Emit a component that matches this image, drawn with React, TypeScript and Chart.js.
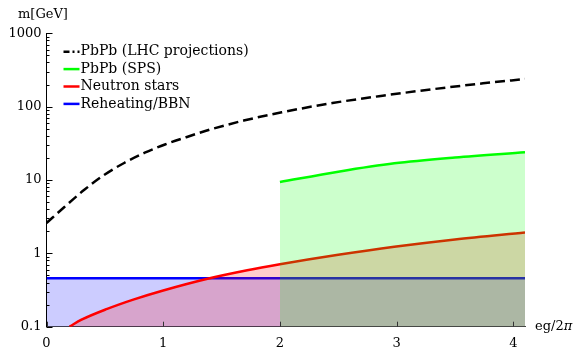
import React, { useEffect, useRef } from "react";
import { Chart, registerables } from "chart.js";

Chart.register(...registerables);

// ---- data ----
const lhcX = [0, 0.151, 0.324, 0.497, 0.669, 0.842, 1.015, 1.188, 1.36, 1.533, 1.69, 2.016, 2.45, 2.88, 3.31, 3.74, 4.1];
const lhcM = [2.59, 4.25, 7.35, 11.8, 17.2, 23.55, 30.5, 37.9, 46.5, 55.7, 64.6, 83.8, 112, 141, 173, 208, 238];

const spsX = [2, 2.5, 2.98, 3.5, 4.1];
const spsM = [9.4, 13.0, 16.9, 20.3, 23.9];

const nsX = [0.197, 0.3, 0.52, 0.75, 1.0, 1.38, 1.72, 2.0, 2.5, 2.98, 3.5, 4.1];
const nsM = [0.1, 0.1245, 0.175, 0.236, 0.312, 0.451, 0.589, 0.71, 0.955, 1.23, 1.55, 1.93];

const bbnX = [0, 4.1];
const bbnM = [0.456, 0.456];

const seriesLabels = ["PbPb (LHC projections)", "PbPb (SPS)", "Neutron stars", "Reheating/BBN"];
const xTickValues = [0, 1, 2, 3, 4];
const yMajorTicks = [0.1, 1, 10, 100, 1000];
const yTickLabels = ["0.1", "1", "10", "100", "1000"];
const yAxisTitle = "m[GeV]";
const xAxisTitle = "eg/2";
const xAxisTitleItalic = "\u03c0";

const FONT = "DejaVu Serif";

const pts = (xs: number[], ys: number[]) => xs.map((x, i) => ({ x, y: ys[i] }));

const yAllTicks: number[] = [];
for (let d = 0; d < yMajorTicks.length; d++) {
  const base = yMajorTicks[d];
  yAllTicks.push(base);
  if (d < yMajorTicks.length - 1) {
    for (let k = 2; k <= 9; k++) yAllTicks.push(+(base * k).toPrecision(3));
  }
}

const decorPlugin = {
  id: "decor",
  afterDraw(chart: any) {
    const { ctx, chartArea, scales } = chart;
    const xs = scales.x;
    const ys = scales.y;
    ctx.save();
    // inward tick marks
    ctx.lineWidth = 1;
    ctx.strokeStyle = "#333";
    xTickValues.forEach((v) => {
      const px = Math.round(xs.getPixelForValue(v)) + 0.5;
      ctx.beginPath();
      ctx.moveTo(px, chartArea.bottom);
      ctx.lineTo(px, chartArea.bottom - 5);
      ctx.stroke();
    });
    ctx.strokeStyle = "#000";
    yAllTicks.forEach((v) => {
      const py = Math.round(ys.getPixelForValue(v)) + 0.5;
      const major = yMajorTicks.includes(v);
      ctx.beginPath();
      ctx.moveTo(chartArea.left, py);
      ctx.lineTo(chartArea.left + (major ? 6 : 3), py);
      ctx.stroke();
    });
    // axis titles
    ctx.fillStyle = "#000";
    ctx.font = `13px "${FONT}"`;
    ctx.textBaseline = "middle";
    ctx.textAlign = "left";
    ctx.fillText(yAxisTitle, 18, 15);
    ctx.fillText(xAxisTitle, 535, 327);
    const w = ctx.measureText(xAxisTitle).width;
    ctx.font = `italic 13px "${FONT}"`;
    ctx.fillText(xAxisTitleItalic, 535 + w, 327);
    // legend
    ctx.font = `14px "${FONT}"`;
    const lx = chartArea.left + 17;
    chart.data.datasets.forEach((ds: any, i: number) => {
      const ly = chartArea.top + 18.4 + i * 17.4;
      ctx.strokeStyle = ds.borderColor;
      ctx.lineWidth = 2.5;
      ctx.setLineDash(ds.borderDash && ds.borderDash.length ? [6, 3, 2, 3] : []);
      ctx.beginPath();
      ctx.moveTo(lx, ly);
      ctx.lineTo(lx + 16, ly);
      ctx.stroke();
      ctx.setLineDash([]);
      ctx.fillStyle = "#000";
      ctx.fillText(ds.label, lx + 17, ly);
    });
    ctx.restore();
  },
};

export default function App() {
  const ref = useRef<HTMLCanvasElement | null>(null);
  useEffect(() => {
    if (!ref.current) return;
    const chart = new Chart(ref.current, {
      type: "line",
      data: {
        datasets: [
          {
            label: seriesLabels[0],
            data: pts(lhcX, lhcM),
            borderColor: "#000000",
            borderWidth: 2.5,
            borderDash: [10, 5],
            pointRadius: 0,
            fill: false,
            cubicInterpolationMode: "monotone",
          },
          {
            label: seriesLabels[1],
            data: pts(spsX, spsM),
            borderColor: "#00ff00",
            backgroundColor: "rgba(0,255,0,0.2)",
            borderWidth: 2.5,
            pointRadius: 0,
            fill: "start",
            cubicInterpolationMode: "monotone",
          },
          {
            label: seriesLabels[2],
            data: pts(nsX, nsM),
            borderColor: "#ff0000",
            backgroundColor: "rgba(255,0,0,0.2)",
            borderWidth: 2.5,
            pointRadius: 0,
            fill: "start",
            cubicInterpolationMode: "monotone",
          },
          {
            label: seriesLabels[3],
            data: pts(bbnX, bbnM),
            borderColor: "#0000ff",
            backgroundColor: "rgba(0,0,255,0.2)",
            borderWidth: 2.5,
            pointRadius: 0,
            fill: "start",
          },
        ],
      },
      options: {
        animation: false,
        responsive: false,
        events: [],
        layout: { padding: { top: 33.3, right: 49, left: 0, bottom: 0 } },
        plugins: { legend: { display: false }, tooltip: { enabled: false } },
        scales: {
          x: {
            type: "linear",
            min: 0,
            max: 4.1,
            afterFit: (s: any) => {
              s.height = 21.3;
            },
            afterBuildTicks: (s: any) => {
              s.ticks = xTickValues.map((v) => ({ value: v }));
            },
            ticks: {
              color: "#000",
              padding: 9,
              maxRotation: 0,
              autoSkip: false,
              font: { family: FONT, size: 13 },
              callback: (v: any) => String(v),
            },
            grid: { drawOnChartArea: false, drawTicks: false },
            border: { color: "#444", width: 1 },
          },
          y: {
            type: "logarithmic",
            min: 0.1,
            max: 1000,
            afterFit: (s: any) => {
              s.width = 46.5;
            },
            afterBuildTicks: (s: any) => {
              s.ticks = yMajorTicks.map((v) => ({ value: v }));
            },
            ticks: {
              color: "#000",
              padding: 5,
              autoSkip: false,
              font: { family: FONT, size: 13 },
              callback: (v: any) => {
                const i = yMajorTicks.indexOf(Number(v));
                return i >= 0 ? yTickLabels[i] : "";
              },
            },
            grid: { drawOnChartArea: false, drawTicks: false },
            border: { color: "#000", width: 1 },
          },
        },
      },
      plugins: [decorPlugin],
    } as any);
    return () => chart.destroy();
  }, []);
  return (
    <div style={{ position: "fixed", left: 0, top: 0, width: 574, height: 348, background: "#fff" }}>
      <canvas ref={ref} width={574} height={348} style={{ width: 574, height: 348, display: "block" }} />
    </div>
  );
}
